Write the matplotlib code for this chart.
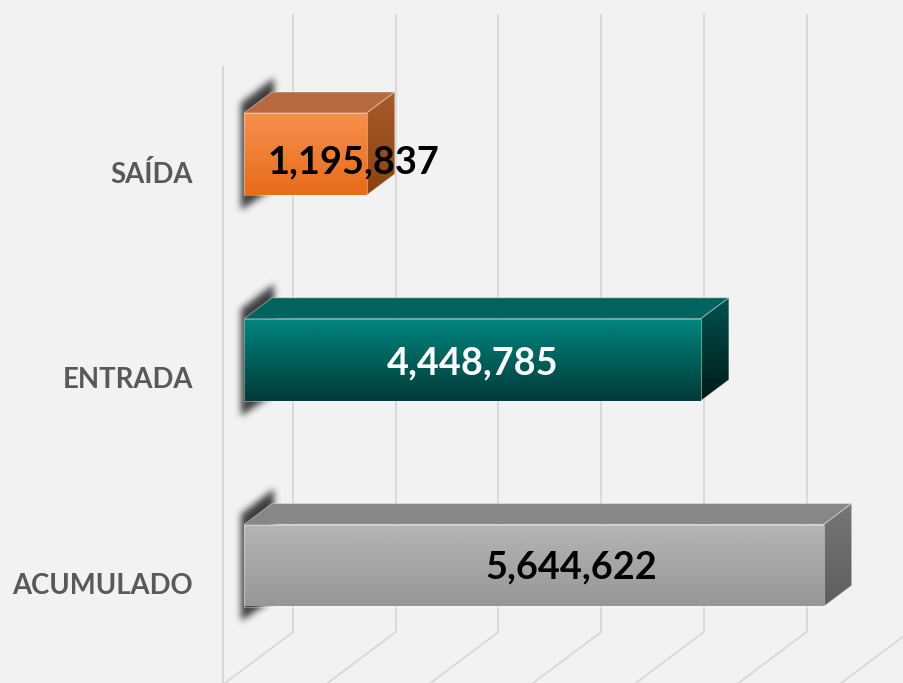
import numpy as np
import matplotlib
matplotlib.use("Agg")
import matplotlib.pyplot as plt
from matplotlib.patches import Polygon
from matplotlib.path import Path
from matplotlib.colors import to_rgb

# ---------------- data ----------------
categories = ["ACUMULADO", "ENTRADA", "SAÍDA"]
values = [5644622, 4448785, 1195837]
value_labels = ["5,644,622", "4,448,785", "1,195,837"]
gridline_values = [0, 1_000_000, 2_000_000, 3_000_000, 4_000_000, 5_000_000, 6_000_000]

# ---------------- styles ----------------
BG = "#F2F2F2"
GRID = "#D9D9D9"
front_top = ["#B5B5B5", "#00857E", "#F6914F"]
front_bot = ["#979797", "#003A38", "#E86B18"]
top_face = ["#878787", "#00635D", "#B9693F"]
side_top = ["#767676", "#00524D", "#A85B2C"]
side_bot = ["#5E5E5E", "#001A19", "#8C4210"]
label_colors = ["#000000", "#FFFFFF", "#000000"]
# label layout (pixel positions: x centre, baseline)
label_x_px = [571.5, 473, 353.5]
label_base_px = [578, 374, 173]

W, H, DPI = 904, 683, 100
fig = plt.figure(figsize=(W / DPI, H / DPI), dpi=DPI, facecolor=BG)
ax = fig.add_axes([0, 0, 1, 1])
ax.set_facecolor(BG)
ax.axis("off")

PX_PER_UNIT_X = 102.7 / 1e6   # pixels per value unit
X0_PX = 244                   # pixel x of value 0 on the front plane
Y_SPACING = 205.75            # pixels between category centres
Y0_PX = 565.5                 # pixel y (from top) of category 0 centre


def dx(px):
    return px / PX_PER_UNIT_X


def dy(px):
    return px / Y_SPACING


def X(px):
    return (px - X0_PX) / PX_PER_UNIT_X


def Y(py):
    return (Y0_PX - py) / Y_SPACING


def px_y(y):
    return Y0_PX - y * Y_SPACING


# ---------------- walls / gridlines ----------------
back_off = dx(49)
front_off = -dx(21)
for v in gridline_values:
    ax.plot([v + back_off, v + back_off], [Y(14), Y(632)], color=GRID, lw=1.4, zorder=1,
            solid_capstyle="butt")
    ax.plot([v + back_off, v + front_off], [Y(632), Y(684.5)], color=GRID, lw=1.4, zorder=1)
ax.plot([front_off, front_off], [Y(66.5), Y(684.5)], color=GRID, lw=1.4, zorder=1)


def grad_fill(poly, extent, ctop, cbot, z):
    n = 256
    t = np.linspace(0, 1, n)[:, None, None]
    arr = np.array(to_rgb(cbot))[None, None, :] * (1 - t) + np.array(to_rgb(ctop))[None, None, :] * t
    im = ax.imshow(arr, extent=extent, origin="lower", aspect="auto", zorder=z,
                   interpolation="bilinear")
    p = Polygon(poly, closed=True, facecolor="none", edgecolor="none")
    ax.add_patch(p)
    im.set_clip_path(p)
    ax.add_patch(Polygon(poly, closed=True, facecolor="none",
                         edgecolor=(1, 1, 1, 0.35), lw=0.8, zorder=z + 0.1))


def shadow(top_px):
    # blurred dark shape behind the left side of a bar
    x_min, x_max = X0_PX - 20, X0_PX + 50
    y_min, y_max = top_px - 55, top_px + 120
    xs = np.arange(x_min, x_max) + 0.5
    ys = np.arange(y_min, y_max) + 0.5
    gx, gy = np.meshgrid(xs, ys)
    poly = [(X0_PX - 3, top_px - 10), (X0_PX + 30, top_px - 35),
            (X0_PX + 30, top_px + 75), (X0_PX - 3, top_px + 97)]
    mask = Path(poly).contains_points(np.c_[gx.ravel(), gy.ravel()]).reshape(gx.shape).astype(float)
    k = np.exp(-0.5 * (np.arange(-9, 10) / 3.5) ** 2)
    k /= k.sum()
    mask = np.apply_along_axis(lambda r: np.convolve(r, k, mode="same"), 1, mask)
    mask = np.apply_along_axis(lambda c: np.convolve(c, k, mode="same"), 0, mask)
    rgba = np.zeros(mask.shape + (4,))
    rgba[..., :3] = 0.12
    rgba[..., 3] = mask * 0.85
    ax.imshow(rgba, extent=(X(x_min), X(x_max), Y(y_max), Y(y_min)), origin="upper",
              aspect="auto", zorder=2, interpolation="bilinear")


# ---------------- bars ----------------
h = dy(41)
ddx, ddy = dx(28), dy(21)
for i, v in enumerate(values):
    c = i
    shadow(px_y(c + h))
    # front face
    front = [(0, c - h), (v, c - h), (v, c + h), (0, c + h)]
    grad_fill(front, (0, v, c - h, c + h), front_top[i], front_bot[i], 4)
    # top face
    top = [(0, c + h), (v, c + h), (v + ddx, c + h + ddy), (ddx, c + h + ddy)]
    ax.add_patch(Polygon(top, closed=True, facecolor=top_face[i],
                         edgecolor=(1, 1, 1, 0.35), lw=0.8, zorder=3))
    # right side face
    side = [(v, c - h), (v + ddx, c - h + ddy), (v + ddx, c + h + ddy), (v, c + h)]
    grad_fill(side, (v, v + ddx, c - h, c + h + ddy), side_top[i], side_bot[i], 3)

    # value label
    ax.text(X(label_x_px[i]), Y(label_base_px[i]), value_labels[i], ha="center", va="baseline",
            fontsize=27.3, fontweight="bold", family=["Lato", "DejaVu Sans"],
            color=label_colors[i], zorder=6)
    # category label
    ax.text(X(193), c - dy(28.5), categories[i], ha="right", va="baseline",
            fontsize=19.8, fontweight="bold", family=["Lato", "DejaVu Sans"],
            color="#595959", zorder=6)

ax.set_xlim(X(0), X(W))
ax.set_ylim(Y(H), Y(0))
fig.savefig("out.png", dpi=DPI, facecolor=BG)
